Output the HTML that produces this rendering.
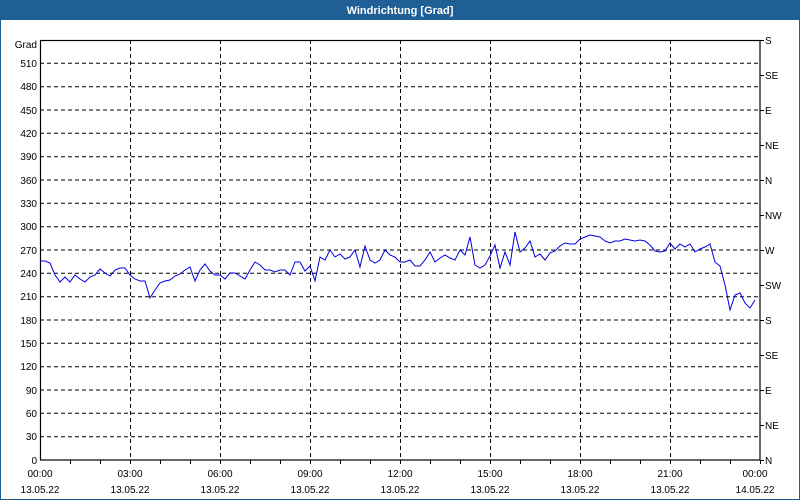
<!DOCTYPE html>
<html><head><meta charset="utf-8"><style>
html,body{margin:0;padding:0;background:#fff}
svg{display:block;font-family:"Liberation Sans",sans-serif}
</style></head><body>
<svg width="800" height="500" viewBox="0 0 800 500" xmlns="http://www.w3.org/2000/svg">
<rect x="0" y="0" width="800" height="500" fill="#fff"/>
<rect x="0.5" y="0.5" width="799" height="499" fill="none" stroke="#1f5f96" stroke-width="1"/>
<rect x="0" y="0" width="800" height="20" fill="#1f5f96"/>
<text x="400" y="14" fill="#fff" font-size="11" font-weight="bold" text-anchor="middle">Windrichtung [Grad]</text>
<g stroke="#000" stroke-width="1" stroke-dasharray="4,3" fill="none">
<path d="M40 63.3H760M40 86.7H760M40 110H760M40 133.3H760M40 156.7H760M40 180H760M40 203.3H760M40 226.7H760M40 250H760M40 273.3H760M40 296.7H760M40 320H760M40 343.3H760M40 366.7H760M40 390H760M40 413.3H760M40 436.7H760"/>
<path d="M130.5 40V460M220.5 40V460M310.5 40V460M400.5 40V460M490.5 40V460M580.5 40V460M670.5 40V460"/>
</g>
<rect x="40.5" y="40.5" width="719.5" height="419.5" fill="none" stroke="#000" stroke-width="1.2"/>
<g stroke="#000" stroke-width="1">
<path d="M70.5 460v4M100.5 460v4M130.5 460v4M160.5 460v4M190.5 460v4M220.5 460v4M250.5 460v4M280.5 460v4M310.5 460v4M340.5 460v4M370.5 460v4M400.5 460v4M430.5 460v4M460.5 460v4M490.5 460v4M520.5 460v4M550.5 460v4M580.5 460v4M610.5 460v4M640.5 460v4M670.5 460v4M700.5 460v4M730.5 460v4M760.5 460v4"/>
<path d="M760 40.5h4M760 75.5h4M760 110.5h4M760 145.5h4M760 180.5h4M760 215.5h4M760 250.5h4M760 285.5h4M760 320.5h4M760 355.5h4M760 390.5h4M760 425.5h4M760 460.5h4"/>
</g>
<g font-size="10" fill="#000" text-anchor="end">
<text x="37" y="48">Grad</text>
<text x="37" y="67">510</text><text x="37" y="90">480</text><text x="37" y="114">450</text><text x="37" y="137">420</text><text x="37" y="160">390</text><text x="37" y="184">360</text><text x="37" y="207">330</text><text x="37" y="230">300</text><text x="37" y="254">270</text><text x="37" y="277">240</text><text x="37" y="300">210</text><text x="37" y="324">180</text><text x="37" y="347">150</text><text x="37" y="370">120</text><text x="37" y="394">90</text><text x="37" y="417">60</text><text x="37" y="440">30</text><text x="37" y="464">0</text>
</g>
<g font-size="10" fill="#000">
<text x="765" y="44">S</text><text x="765" y="79">SE</text><text x="765" y="114">E</text><text x="765" y="149">NE</text><text x="765" y="184">N</text><text x="765" y="219">NW</text><text x="765" y="254">W</text><text x="765" y="289">SW</text><text x="765" y="324">S</text><text x="765" y="359">SE</text><text x="765" y="394">E</text><text x="765" y="429">NE</text><text x="765" y="464">N</text>
</g>
<g font-size="10" fill="#000" text-anchor="middle">
<text x="40" y="477">00:00</text><text x="40" y="493">13.05.22</text>
<text x="130" y="477">03:00</text><text x="130" y="493">13.05.22</text>
<text x="220" y="477">06:00</text><text x="220" y="493">13.05.22</text>
<text x="310" y="477">09:00</text><text x="310" y="493">13.05.22</text>
<text x="400" y="477">12:00</text><text x="400" y="493">13.05.22</text>
<text x="490" y="477">15:00</text><text x="490" y="493">13.05.22</text>
<text x="580" y="477">18:00</text><text x="580" y="493">13.05.22</text>
<text x="670" y="477">21:00</text><text x="670" y="493">13.05.22</text>
<text x="755" y="477">00:00</text><text x="755" y="493">14.05.22</text>
</g>
<polyline fill="none" stroke="#0000e0" stroke-width="1" points="40,261 45,261 50,263 55,275 60,282 65,277 70,282 75,275 80,279 85,282 90,277 95,275 100,269 105,273 110,276 115,270 120,268 125,268 130,275 135,279 140,281 145,281 150,298 155,290 160,283 165,281 170,280 175,276 180,274 185,270 190,267 195,281 200,270 205,264 210,271 215,275 220,275 225,279 230,273 235,273 240,276 245,279 250,270 255,262 260,265 265,270 270,270 275,272 280,270 285,270 290,275 295,262 300,262 305,271 310,266 315,281 320,257 325,260 330,250 335,257 340,254 345,259 350,257 355,250 360,267 365,246 370,260 375,263 380,260 385,250 390,255 395,257 400,262 405,262 410,260 415,266 420,266 425,260 430,252 435,262 440,258 445,255 450,258 455,260 460,250 465,255 470,237 475,265 480,268 485,265 490,256 495,245 500,268 505,252 510,265 515,232 520,252 525,248 530,241 535,257 540,254 545,260 550,253 555,251 560,246 565,243 570,244 575,244 580,239 585,237 590,235 595,236 600,237 605,241 610,243 615,241 620,241 625,239 630,240 635,241 640,240 645,241 650,245 655,251 660,252 665,251 670,243 675,249 680,244 685,247 690,244 695,252 700,249 705,247 710,244 715,262 720,266 725,285 730,310 735,295 740,293 745,303 750,308 755,300"/>
</svg>
</body></html>
